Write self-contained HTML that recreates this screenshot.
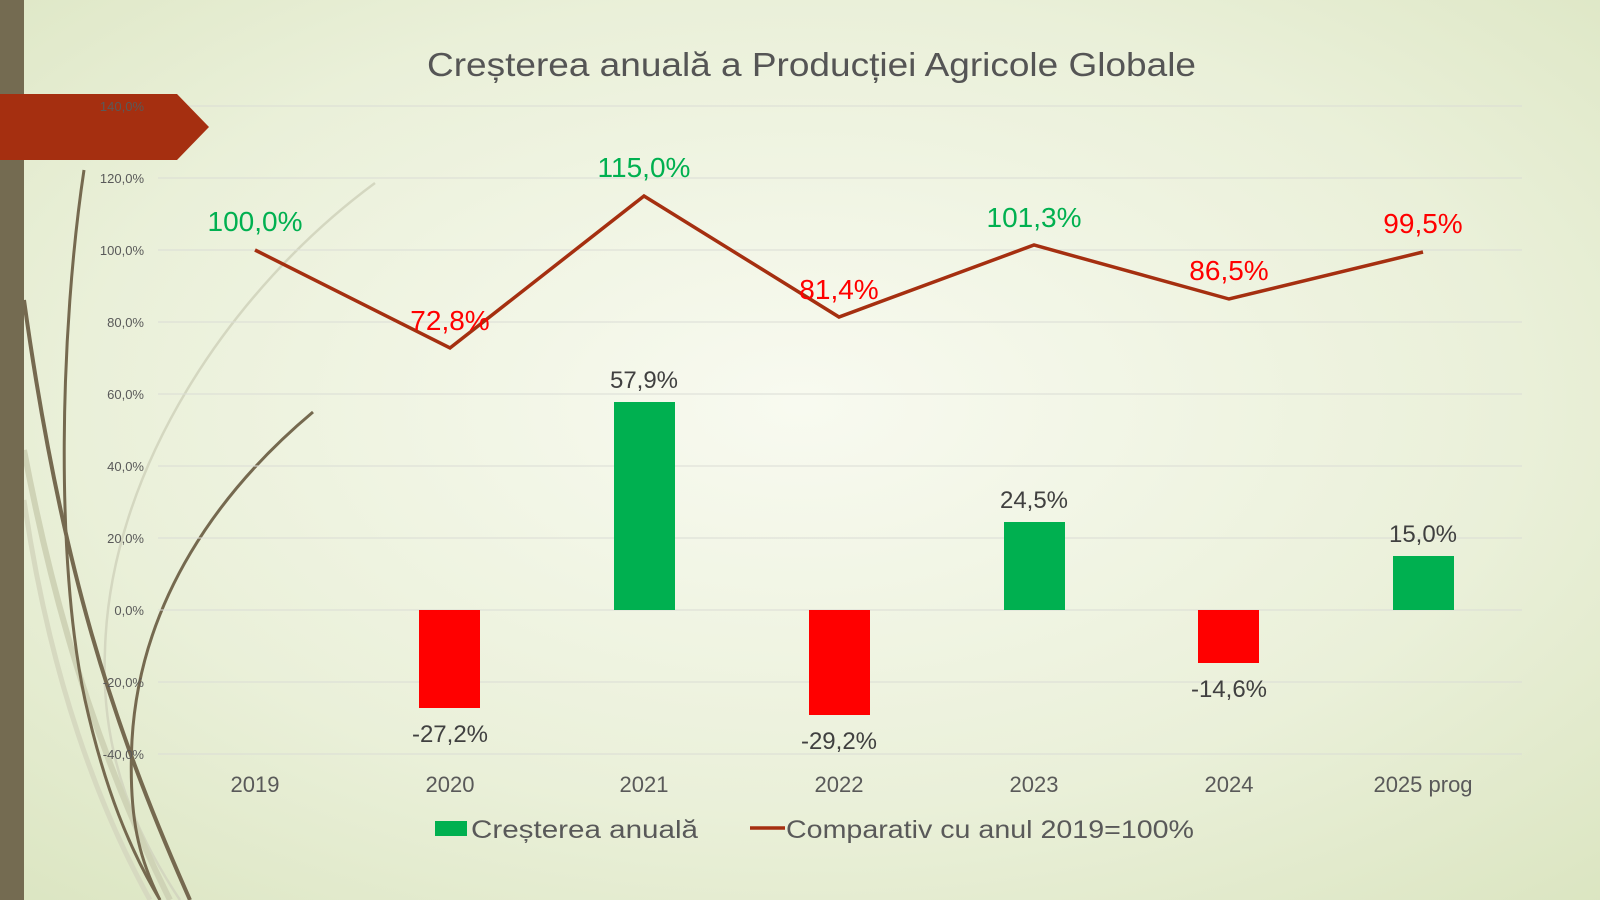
<!DOCTYPE html>
<html><head><meta charset="utf-8"><style>
html,body{margin:0;padding:0;width:1600px;height:900px;overflow:hidden}
svg{display:block;font-family:"Liberation Sans",sans-serif}
</style></head><body>
<svg width="1600" height="900" viewBox="0 0 1600 900" xmlns="http://www.w3.org/2000/svg">
<defs>
<radialGradient id="bg" cx="0.5" cy="0.45" r="0.75">
<stop offset="0" stop-color="#f8faf0"/><stop offset="0.6" stop-color="#eaf0d9"/><stop offset="1" stop-color="#dbe5c1"/>
</radialGradient>
</defs>
<rect width="1600" height="900" fill="url(#bg)"/>
<g fill="none">
<path d="M375 183 C230 290 110 470 105 650 C100 760 140 840 180 900" stroke="#d4d7c0" stroke-width="2.5"/>
<path d="M24 450 C60 640 110 780 170 900" stroke="#cfd3b6" stroke-width="6"/>
<path d="M24 500 C50 680 100 810 150 900" stroke="#d6d9c0" stroke-width="5"/>
<path d="M84 170 C60 330 55 560 85 700 C105 790 130 850 160 900" stroke="#75694f" stroke-width="3"/>
<path d="M24 300 C60 560 110 720 190 900" stroke="#75694f" stroke-width="4"/>
<path d="M313 412 C220 490 140 600 132 740 C128 820 140 860 160 900" stroke="#75694f" stroke-width="3"/>
</g>
<rect x="0" y="0" width="24" height="900" fill="#746b51"/>
<g stroke="#dadcd5" stroke-width="1">
<line x1="158" y1="106" x2="1522" y2="106"/><line x1="158" y1="178" x2="1522" y2="178"/>
<line x1="158" y1="250" x2="1522" y2="250"/><line x1="158" y1="322" x2="1522" y2="322"/>
<line x1="158" y1="394" x2="1522" y2="394"/><line x1="158" y1="466" x2="1522" y2="466"/>
<line x1="158" y1="538" x2="1522" y2="538"/><line x1="158" y1="610" x2="1522" y2="610"/>
<line x1="158" y1="682" x2="1522" y2="682"/><line x1="158" y1="754" x2="1522" y2="754"/>
</g>
<polygon points="0,94 177,94 209,127 177,160 0,160" fill="#a52f10"/>
<g fill="#595959" font-size="13" text-anchor="end">
<text x="144" y="111">140,0%</text><text x="144" y="183">120,0%</text><text x="144" y="255">100,0%</text>
<text x="144" y="327">80,0%</text><text x="144" y="399">60,0%</text><text x="144" y="471">40,0%</text>
<text x="144" y="543">20,0%</text><text x="144" y="615">0,0%</text><text x="144" y="687">-20,0%</text>
<text x="144" y="759">-40,0%</text>
</g>
<text x="427" y="76" font-size="33" fill="#555" textLength="769" lengthAdjust="spacingAndGlyphs">Creșterea anuală a Producției Agricole Globale</text>
<rect x="419" y="610" width="61" height="98" fill="#ff0000"/>
<rect x="614" y="402" width="61" height="208" fill="#00b050"/>
<rect x="809" y="610" width="61" height="105" fill="#ff0000"/>
<rect x="1004" y="522" width="61" height="88" fill="#00b050"/>
<rect x="1198" y="610" width="61" height="53" fill="#ff0000"/>
<rect x="1393" y="556" width="61" height="54" fill="#00b050"/>
<g font-size="24" fill="#404040" text-anchor="middle">
<text x="450" y="742">-27,2%</text><text x="644" y="388">57,9%</text><text x="839" y="749">-29,2%</text>
<text x="1034" y="508">24,5%</text><text x="1229" y="697">-14,6%</text><text x="1423" y="542">15,0%</text>
</g>
<polyline points="255,250 450,348 644,196 839,317 1034,245 1229,299 1423,252" fill="none" stroke="#a52f10" stroke-width="3.5"/>
<g font-size="28" text-anchor="middle">
<text x="255" y="231" fill="#00b050">100,0%</text><text x="450" y="330" fill="#ff0000">72,8%</text>
<text x="644" y="177" fill="#00b050">115,0%</text><text x="839" y="299" fill="#ff0000">81,4%</text>
<text x="1034" y="227" fill="#00b050">101,3%</text><text x="1229" y="280" fill="#ff0000">86,5%</text>
<text x="1423" y="233" fill="#ff0000">99,5%</text>
</g>
<g font-size="22" fill="#595959" text-anchor="middle">
<text x="255" y="792">2019</text><text x="450" y="792">2020</text><text x="644" y="792">2021</text>
<text x="839" y="792">2022</text><text x="1034" y="792">2023</text><text x="1229" y="792">2024</text>
<text x="1423" y="792">2025 prog</text>
</g>
<rect x="435" y="821" width="32" height="15" fill="#00b050"/>
<text x="471" y="838" font-size="25" fill="#595959" textLength="227" lengthAdjust="spacingAndGlyphs">Creșterea anuală</text>
<line x1="750" y1="828" x2="785" y2="828" stroke="#a52f10" stroke-width="3.5"/>
<text x="786" y="838" font-size="25" fill="#595959" textLength="408" lengthAdjust="spacingAndGlyphs">Comparativ cu anul 2019=100%</text>
</svg>
</body></html>
